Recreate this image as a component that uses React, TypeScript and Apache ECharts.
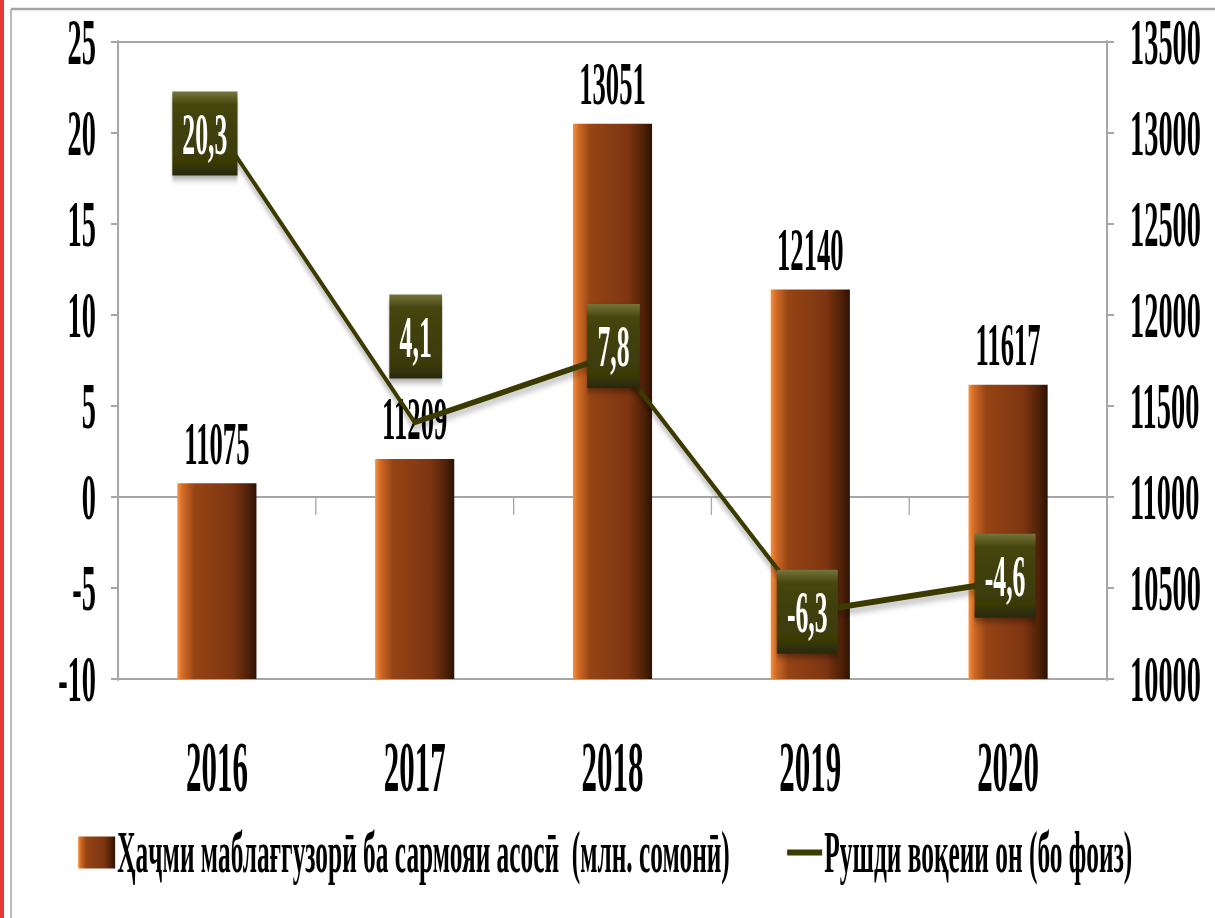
import React, { useEffect, useRef } from "react";
import * as echarts from "echarts";

const years = ["2016", "2017", "2018", "2019", "2020"];
const investment = [11075, 11209, 13051, 12140, 11617];
const growth = [20.3, 4.1, 7.8, -6.3, -4.6];
const leftTicks = { min: -10, max: 25, interval: 5 };
const rightTicks = { min: 10000, max: 13500, interval: 500 };
const barName = "Ҳаҷми маблағгузорӣ ба сармояи асосӣ  (млн. сомонӣ)";
const lineName = "Рушди воқеии он (бо фоиз)";

// horizontal condensation (reference text is tall and narrow)
const S = 0.43;
const W = Math.round(1215 / S);
const H = 918;
const px = (x: number) => x / S;

// label box offsets relative to points (post-scale px)
const boxOffsets: [number, number][] = [
  [-12, 6],
  [1, -86],
  [1, -9],
  [-3, 0],
  [-3, -5],
];

const FONT = "Liberation Serif";
const GRAY = "#a6a6a6";
const OLIVE = "#3b3b05";

const fmt = (v: number) => String(v).replace(".", ",");

function boxWidth(t: string): number {
  let w = 0;
  for (const ch of t) {
    if (ch === ",") w += 14.5;
    else if (ch === "-") w += 19;
    else w += 29;
  }
  return w + 50;
}

export default function App() {
  const ref = useRef<HTMLDivElement>(null);
  useEffect(() => {
    if (!ref.current) return;
    const chart = echarts.init(ref.current, null, { renderer: "svg" });

    const barColor = new echarts.graphic.LinearGradient(0, 0, 1, 0, [
      { offset: 0, color: "#f7913f" },
      { offset: 0.07, color: "#d06a26" },
      { offset: 0.22, color: "#954414" },
      { offset: 0.7, color: "#7d3511" },
      { offset: 0.9, color: "#4d2007" },
      { offset: 1, color: "#2c1203" },
    ]);
    const boxColor = new echarts.graphic.LinearGradient(0, 0, 0, 1, [
      { offset: 0, color: "#75753a" },
      { offset: 0.16, color: "#45450f" },
      { offset: 0.84, color: "#3a3a06" },
      { offset: 1, color: "#28280a" },
    ]);

    const lineData = growth.map((v, i) => ({
      value: v,
      symbolSize: [boxWidth(fmt(v)), 84],
      symbolOffset: [px(boxOffsets[i][0]), boxOffsets[i][1]],
    }));

    const yLabel = {
      fontSize: 66,
      fontFamily: FONT,
      fontWeight: "bold" as const,
      color: "#000",
      formatter: (v: number) => String(v),
    };

    const legendText = { fontSize: 59, fontFamily: FONT, fontWeight: "bold" as const, color: "#000" };

    chart.setOption({
      animation: false,
      backgroundColor: "#fff",
      textStyle: { fontFamily: FONT },
      graphic: [
        {
          type: "rect",
          shape: { x: 0, y: 0, width: px(4), height: H },
          style: { fill: "#e53935" },
          silent: true,
        },
        {
          type: "line",
          shape: { x1: px(11), y1: 9, x2: W, y2: 9 },
          style: { stroke: GRAY, lineWidth: 2.5 },
          silent: true,
        },
        {
          type: "line",
          shape: { x1: px(11), y1: 9, x2: px(11), y2: H },
          style: { stroke: GRAY, lineWidth: px(1.5) },
          silent: true,
        },
      ],
      grid: {
        left: px(118),
        right: W - px(1107),
        top: 42,
        bottom: H - 679,
        show: true,
        borderColor: GRAY,
        borderWidth: 2,
        backgroundColor: "transparent",
        containLabel: false,
      },
      legend: [
        {
          data: [{ name: barName, icon: "rect" }],
          left: px(76),
          top: 818,
          itemWidth: px(37),
          itemHeight: 32,
          selectedMode: false,
          textStyle: legendText,
        },
        {
          data: [{ name: lineName, icon: "rect", itemStyle: { color: OLIVE } }],
          left: px(785),
          top: 818,
          itemWidth: px(35),
          itemHeight: 6,
          selectedMode: false,
          textStyle: legendText,
        },
      ],
      xAxis: [
        {
          type: "category",
          data: years,
          position: "bottom",
          axisLine: { show: true, onZero: false, lineStyle: { color: GRAY, width: 2 } },
          axisTick: { show: false },
          axisLabel: { fontSize: 72, fontFamily: FONT, fontWeight: "bold", color: "#000", margin: 52 },
          splitLine: { show: false },
        },
        {
          type: "category",
          data: years,
          position: "top",
          axisLine: {
            show: true,
            onZero: true,
            onZeroAxisIndex: 0,
            lineStyle: { color: GRAY, width: 2 },
          },
          axisTick: {
            show: true,
            inside: true,
            length: 18,
            lineStyle: { color: GRAY, width: px(1.3) },
          },
          axisLabel: { show: false },
          splitLine: { show: false },
        },
      ],
      yAxis: [
        {
          type: "value",
          position: "left",
          min: leftTicks.min,
          max: leftTicks.max,
          interval: leftTicks.interval,
          axisLine: { show: true, lineStyle: { color: GRAY, width: px(2) } },
          axisTick: { show: true, length: px(7), lineStyle: { color: GRAY, width: 2 } },
          axisLabel: { ...yLabel, margin: px(22) },
          splitLine: { show: false },
        },
        {
          type: "value",
          position: "right",
          min: rightTicks.min,
          max: rightTicks.max,
          interval: rightTicks.interval,
          axisLine: { show: true, lineStyle: { color: GRAY, width: px(2) } },
          axisTick: { show: true, length: px(7), lineStyle: { color: GRAY, width: 2 } },
          axisLabel: { ...yLabel, margin: px(23) },
          splitLine: { show: false },
        },
      ],
      series: [
        {
          name: barName,
          type: "bar",
          xAxisIndex: 0,
          yAxisIndex: 1,
          data: investment,
          barWidth: "40%",
          itemStyle: { color: barColor },
          label: {
            show: true,
            position: "top",
            distance: 10,
            fontSize: 62,
            fontFamily: FONT,
            fontWeight: "bold",
            color: "#000",
          },
          z: 2,
        },
        {
          name: lineName,
          type: "line",
          xAxisIndex: 0,
          yAxisIndex: 0,
          data: lineData,
          symbol: "rect",
          showSymbol: true,
          lineStyle: {
            color: OLIVE,
            width: 6,
            shadowColor: "rgba(0,0,0,0.28)",
            shadowBlur: 6,
            shadowOffsetY: 5,
          },
          itemStyle: {
            color: boxColor,
            shadowColor: "rgba(0,0,0,0.35)",
            shadowBlur: 6,
            shadowOffsetY: 4,
          },
          label: {
            show: true,
            position: "inside",
            fontSize: 60,
            fontFamily: FONT,
            fontWeight: "bold",
            color: "#fff",
            formatter: (p: any) => fmt(p.value),
          },
          z: 5,
        },
      ],
    });
    return () => chart.dispose();
  }, []);

  return (
    <div
      style={{
        position: "fixed",
        left: 0,
        top: 0,
        width: 1215,
        height: H,
        overflow: "hidden",
        background: "#fff",
      }}
    >
      <div
        ref={ref}
        style={{
          width: W,
          height: H,
          transform: `scaleX(${S})`,
          transformOrigin: "0 0",
        }}
      />
    </div>
  );
}
